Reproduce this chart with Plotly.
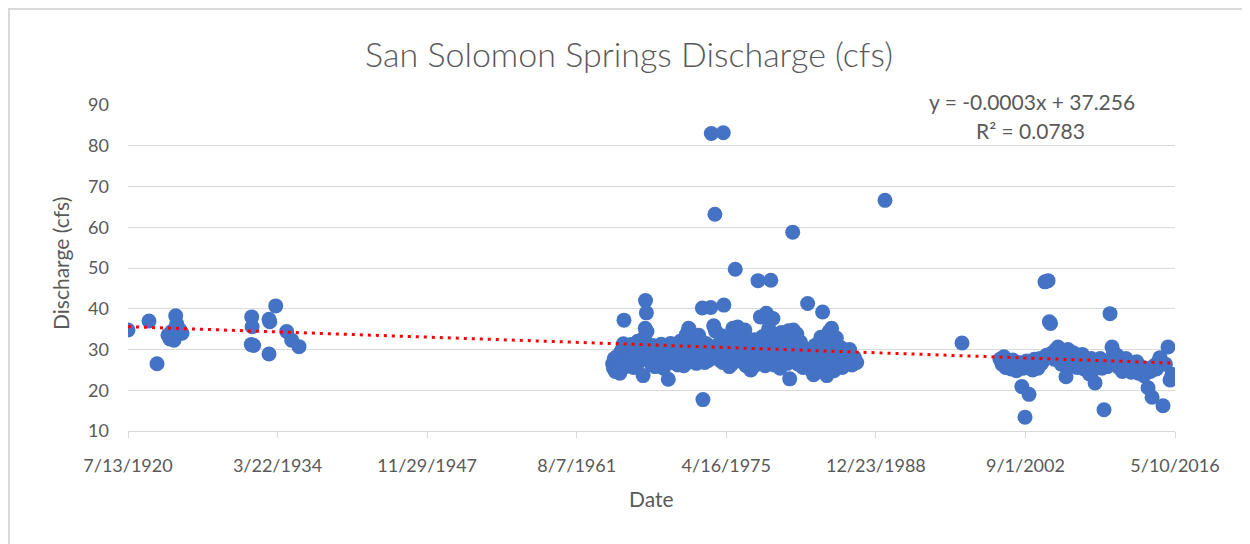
import numpy as np
import plotly.graph_objects as go

# Dates as Excel serial day numbers, discharge in cfs
early_dates = [7500, 8202, 8470, 8837, 8904, 8961, 9038, 9095, 9128, 9238, 9305]
early_cfs = [34.8, 37.0, 26.5, 33.5, 32.6, 34.4, 32.3, 38.3, 36.3, 34.8, 34.0]

thirties_dates = [11620, 11635, 11650, 11700, 12214, 12240, 12214, 12438, 12805, 12972, 13216]
thirties_cfs = [31.2, 38.0, 35.6, 31.0, 37.4, 36.8, 28.9, 40.7, 34.4, 32.3, 30.7]

mid_dates = [
    23700, 23730, 23760, 23790, 23820, 23850, 23880, 23910, 23940, 23980, 24010, 24040, 24060, 24080,
    24100, 24130, 24160, 24200, 24240, 24280, 24320, 24360, 24400, 24440, 24470, 24500, 24540, 24580,
    24620, 24660, 24700,
    24720, 24760, 24790, 24800, 24830, 24850, 24880, 24920, 24960, 25000, 25040, 25080, 25120, 25160,
    25200, 25240, 25280, 25320, 25360, 25400, 25450, 25500, 25560, 25600, 25640, 25680,
    25720, 25760, 25800, 25840, 25880, 25920, 25960, 26000, 26040, 26080, 26120, 26160, 26200, 26240,
    26260, 26300, 26340, 26380, 26420, 26460, 26500, 26540, 26580, 26620, 26660, 26700,
    26720, 26740, 26780, 26820, 26860, 26900, 26940, 26980, 27000, 27040, 27080, 27120, 27140, 27180,
    27220, 27260, 27300, 27340, 27380, 27400, 27420, 27440, 27480, 27520, 27560, 27600, 27640, 27680,
    27720, 27760, 27800, 27840, 27880, 27920, 27960, 28000, 28040, 28080, 28120, 28160, 28200, 28240,
    28280, 28320, 28360, 28400, 28440, 28480, 28520, 28560, 28600, 28640, 28680,
    28720, 28760, 28800, 28840, 28880, 28920, 28960, 28990, 29020, 29060, 29100, 29140, 29180, 29220,
    29260, 29300, 29340, 29380, 29420, 29460, 29500, 29540, 29580, 29620, 29660, 29700,
    29720, 29740, 29780, 29820, 29860, 29900, 29940, 29980, 30020, 30060, 30100, 30140, 30180, 30220,
    30260, 30300, 30340, 30380, 30420, 30460, 30500, 30540, 30580, 30620, 30660, 30700,
    30720, 30750, 30780, 30820, 30860, 30900, 30940, 30980, 31020, 31060, 31100, 31140, 31180, 31220,
    31260, 31300, 31340, 31380, 31420, 31460, 31500, 31560, 31620, 31700, 31780, 31860,
    32806, 35380,
]
mid_cfs = [
    26.5, 25.4, 27.8, 24.6, 26.1, 28.3, 25.0, 27.2, 24.2, 29.5, 26.4, 30.2, 31.4, 37.2,
    27.9, 25.8, 28.8, 30.6, 26.9, 29.1, 31.2, 27.4, 25.6, 28.6, 30.0, 26.2, 32.0, 27.0,
    29.4, 31.6, 28.0,
    23.6, 33.0, 35.2, 42.0, 39.0, 34.4, 30.3, 27.5, 29.6, 26.3, 31.0, 28.4, 25.8, 30.5,
    27.2, 29.8, 26.6, 31.3, 28.2, 25.4, 30.0, 27.0, 22.7, 29.3, 31.5, 26.8,
    28.7, 31.2, 27.4, 30.4, 26.2, 29.0, 32.0, 27.7, 30.8, 26.0, 28.5, 33.6, 29.2, 35.2,
    35.0, 27.0, 30.6, 32.6, 28.0, 31.0, 26.6, 29.6, 33.5, 27.6, 30.2, 40.2,
    17.7, 28.8, 26.8, 31.5, 29.0, 27.3, 30.6, 40.3, 83.0, 28.2, 35.8, 63.2, 34.5, 31.0,
    29.6, 27.5, 30.4, 33.4, 26.8, 83.2, 40.9, 29.2, 31.8, 27.0, 30.0, 25.8, 28.4, 26.4,
    35.2, 32.8, 49.7, 29.0, 35.5, 31.2, 27.2, 30.4, 33.4, 28.3, 34.8, 26.0, 29.6, 31.6,
    27.4, 25.0, 30.2, 28.0, 32.4, 26.2, 30.8, 46.9, 29.0, 38.0, 27.2,
    33.2, 31.0, 26.0, 38.9, 30.0, 35.2, 27.8, 47.0, 31.6, 37.6, 26.2, 29.4, 33.0, 28.0,
    31.8, 25.4, 34.2, 29.0, 27.6, 32.6, 30.2, 26.6, 34.6, 22.8, 28.8, 31.4,
    58.8, 34.8, 27.8, 30.4, 33.8, 26.4, 29.6, 31.8, 27.0, 25.6, 28.8, 30.2, 26.8, 41.3,
    29.0, 27.4, 25.0, 28.4, 23.8, 31.0, 26.2, 29.6, 24.6, 27.6, 33.0, 30.0,
    39.2, 28.2, 25.8, 32.4, 23.6, 29.4, 34.4, 26.6, 35.2, 30.6, 24.8, 28.0, 32.8, 26.0,
    29.8, 27.0, 30.4, 25.6, 28.6, 26.4, 29.2, 27.4, 30.0, 26.2, 28.0, 26.8,
    66.6, 31.6,
]

late_dates = [
    36650, 36720, 36780, 36840, 36900, 36960, 37020, 37080, 37140, 37200, 37260, 37320, 37380, 37430,
    37486, 37540, 37620, 37680, 37740, 37800, 37860, 37920, 37980, 38040, 38100, 38155, 38200, 38256,
    38300, 38340, 38400, 38460, 38520, 38589, 38640, 38700, 38760, 38820, 38857, 38920, 38980, 39040,
    39100, 39160, 39220, 39280, 39340, 39400, 39460, 39520, 39580, 39640, 39700, 39760, 39827, 39880,
    39940, 40000, 40060, 40127, 40180, 40240, 40328, 40395, 40440, 40500, 40560, 40620, 40680, 40740,
    40800, 40860, 40920, 40980, 41040, 41100, 41160, 41220, 41280, 41340, 41400, 41460, 41520, 41599,
    41680, 41733, 41800, 41880, 41940, 41999, 42099, 42180, 42266, 42333, 42400,
]
late_cfs = [
    27.6, 26.4, 28.2, 25.6, 27.0, 25.8, 25.2, 27.4, 26.0, 24.8, 26.8, 26.2, 20.9, 25.4,
    13.4, 27.2, 19.0, 25.8, 25.0, 27.6, 26.4, 25.4, 27.8, 26.6, 27.4, 46.6, 28.6, 46.9,
    36.8, 36.4, 29.2, 27.6, 30.0, 30.6, 28.4, 26.4, 29.4, 27.2, 23.3, 30.0, 27.8, 26.0,
    29.2, 27.0, 25.6, 28.0, 26.2, 28.8, 25.2, 27.4, 25.8, 24.0, 27.8, 25.0, 21.8, 27.2,
    26.2, 27.8, 25.4, 15.2, 27.0, 25.8, 38.8, 30.6, 29.4, 26.8, 28.6, 25.6, 27.6, 24.6,
    26.4, 27.8, 24.8, 26.6, 24.4, 26.0, 25.2, 27.0, 24.2, 25.8, 25.0, 23.6, 25.4, 20.6,
    24.6, 18.3, 26.0, 25.2, 27.0, 28.0, 16.2, 26.4, 30.6, 22.5, 23.9,
]

tick_vals = [7500, 12500, 17500, 22500, 27500, 32500, 37500, 42500]
tick_text = ["7/13/1920", "3/22/1934", "11/29/1947", "8/7/1961",
             "4/16/1975", "12/23/1988", "9/1/2002", "5/10/2016"]

x = np.array(early_dates + thirties_dates + mid_dates + late_dates, dtype=float)
y = np.array(early_cfs + thirties_cfs + mid_cfs + late_cfs, dtype=float)

slope, intercept = np.polyfit(x, y, 1)
tx = np.array([x.min(), x.max()])
ty = slope * tx + intercept

TXT = "#595959"
GRID = "#D9D9D9"
FONT = "Lato, Open Sans, sans-serif"

fig = go.Figure()
fig.add_trace(go.Scatter(x=x, y=y, mode="markers",
                         marker=dict(color="#4472C4", size=15, line=dict(width=0)),
                         showlegend=False, hoverinfo="x+y"))
fig.add_trace(go.Scatter(x=tx, y=ty, mode="lines",
                         line=dict(color="#FF0000", width=3, dash="3px,5px"),
                         showlegend=False, hoverinfo="skip"))

# page has an 8px body margin; figure sized to fit the remaining window
OFF = 8
L, R, T, B = 120, 75, 97, 113
W, H = 1242, 536
pw, ph = W - L - R, H - T - B
def px(page_x):
    return (page_x - OFF - L) / pw
def py(page_y):
    return (H - B - (page_y - OFF)) / ph

fig.update_layout(
    width=W, height=H,
    margin=dict(l=L, r=R, t=T, b=B, autoexpand=False),
    paper_bgcolor="white", plot_bgcolor="white",
    font=dict(family=FONT, color=TXT, size=18),
    title=dict(text="San Solomon Springs Discharge (cfs)", x=0.5, xanchor="center",
               y=1 - (55 - OFF) / H, yanchor="middle",
               font=dict(family="Lato Light, " + FONT, size=34, color=TXT, weight=300)),
    xaxis=dict(range=[7500, 42500], tickmode="array", tickvals=tick_vals, ticktext=tick_text,
               showgrid=False, zeroline=False, showline=True, linecolor=GRID, linewidth=1,
               ticks="outside", ticklen=6, tickcolor=GRID, tickwidth=1,
               ticklabelstandoff=12, tickfont=dict(size=18, color=TXT)),
    yaxis=dict(range=[10, 90], dtick=10, tick0=10, showgrid=True, gridcolor=GRID, gridwidth=1,
               zeroline=False, showline=False, ticks="", ticklabelstandoff=18,
               tickfont=dict(size=18, color=TXT)),
    annotations=[
        dict(text="Date", xref="paper", yref="paper", x=px(651), y=py(498),
             xanchor="center", yanchor="middle", showarrow=False,
             font=dict(size=21, color=TXT, family=FONT)),
        dict(text="Discharge (cfs)", xref="paper", yref="paper", x=px(60), y=py(264),
             xanchor="center", yanchor="middle", showarrow=False, textangle=-90,
             font=dict(size=21, color=TXT, family=FONT)),
        dict(text="y = -0.0003x + 37.256", xref="paper", yref="paper", x=px(1032), y=py(101),
             xanchor="center", yanchor="middle", showarrow=False,
             font=dict(size=21, color=TXT, family=FONT)),
        dict(text="R² = 0.0783", xref="paper", yref="paper", x=px(1030), y=py(130),
             xanchor="center", yanchor="middle", showarrow=False,
             font=dict(size=21, color=TXT, family=FONT)),
    ],
    shapes=[
        dict(type="path", xref="paper", yref="paper",
             path=f"M {px(9)} {py(560)} L {px(9)} {py(9)} L {px(1260)} {py(9)}",
             line=dict(color=GRID, width=2)),
    ],
)

fig.write_html("out.html")
